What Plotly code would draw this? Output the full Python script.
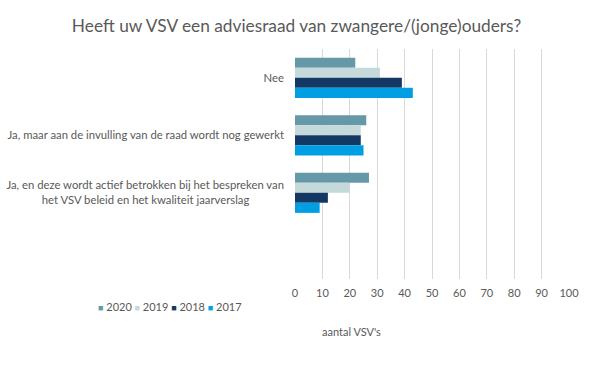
import plotly.graph_objects as go

categories = [
    "Nee",
    "Ja, maar aan de invulling van de raad wordt nog gewerkt",
    "Ja, en deze wordt actief betrokken bij het bespreken van<br>het VSV beleid en het kwaliteit jaarverslag" + "\u00a0" * 12,
]
empty_category = " "
years = ["2020", "2019", "2018", "2017"]
values_2020 = [22, 26, 27]
values_2019 = [31, 24, 20]
values_2018 = [39, 24, 12]
values_2017 = [43, 25, 9]
series = [values_2020, values_2019, values_2018, values_2017]
colors = ["#6699A8", "#C5D9DB", "#123863", "#009FE3"]
x_ticks = list(range(0, 101, 10))

font_family = "Lato, 'Open Sans', sans-serif"
gray = "#595959"

L, R, T, B = 295, 24, 49, 89
W, H = 593, 368
pw, ph = W - L - R, H - T - B

fig = go.Figure()
for name, vals, col in zip(years, series, colors):
    fig.add_trace(go.Bar(
        x=vals, y=categories, name=name, orientation="h",
        marker=dict(color=col, line=dict(width=0)),
        showlegend=False,
    ))

legend_text = " ".join(
    f"<span style='color:{c};font-size:9px'>■</span> {y}" for y, c in zip(years, colors)
)

fig.update_layout(
    width=W, height=H,
    paper_bgcolor="white", plot_bgcolor="white",
    margin=dict(l=L, r=R, t=T, b=B),
    barmode="group", bargap=0.3, bargroupgap=0,
    font=dict(family=font_family, color=gray, size=11),
    title=dict(
        text="Heeft uw VSV een adviesraad van zwangere/(jonge)ouders?",
        x=0.5, xanchor="center", y=1 - 25.5 / H, yanchor="middle",
        font=dict(size=17.3, color=gray, family=font_family),
    ),
    showlegend=False,
    xaxis=dict(
        range=[0, 100], tickvals=x_ticks, showgrid=True, gridcolor="#D9D9D9",
        gridwidth=1, zeroline=False, showline=False, ticks="",
        ticklabelstandoff=6,
        tickfont=dict(size=11, color=gray), automargin=False,
    ),
    yaxis=dict(
        type="category", categoryorder="array",
        categoryarray=categories + [empty_category],
        range=[3.5, -0.5], showgrid=False, zeroline=False, showline=False,
        ticks="", ticklabelstandoff=10, tickfont=dict(size=11.3, color=gray),
        automargin=False,
    ),
    annotations=[
        dict(
            text="aantal VSV's", xref="paper", yref="paper",
            x=(351 - L) / pw, y=-(331 - (H - B)) / ph,
            xanchor="center", yanchor="middle", showarrow=False,
            font=dict(size=11, color=gray),
        ),
        dict(
            text=legend_text, xref="paper", yref="paper",
            x=(96 - L) / pw, y=-(306 - (H - B)) / ph,
            xanchor="left", yanchor="middle", showarrow=False,
            font=dict(size=11, color=gray),
        ),
    ],
)

fig.write_html(
    "out.html",
    config={"displayModeBar": False},
    post_script="document.body.style.margin='0px';",
)
